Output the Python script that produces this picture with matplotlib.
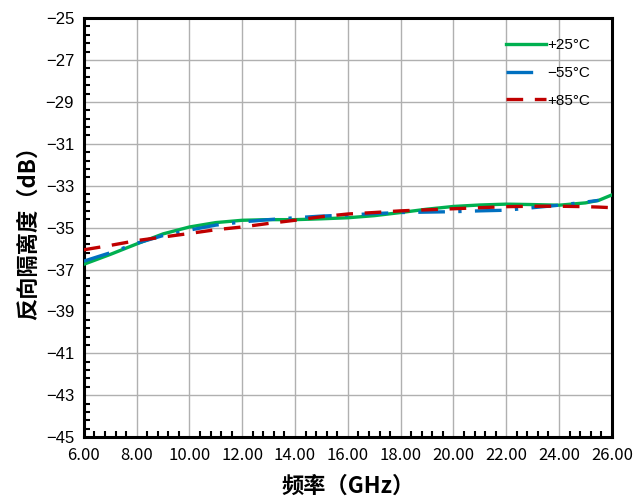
import numpy as np
import matplotlib.pyplot as plt
from matplotlib.ticker import MultipleLocator, FormatStrFormatter

plt.rcParams['font.family'] = ['Liberation Sans', 'Noto Sans CJK SC', 'DejaVu Sans']
plt.rcParams['axes.unicode_minus'] = True

# data
freq = [6, 7, 8, 9, 10, 11, 12, 13, 14, 15, 16, 17, 18, 19, 20, 21, 22, 23, 24, 25, 25.5, 26]
p25 = [-36.75, -36.28, -35.78, -35.30, -34.97, -34.76, -34.65, -34.62, -34.62, -34.58, -34.53,
       -34.43, -34.28, -34.12, -33.99, -33.92, -33.88, -33.90, -33.93, -33.82, -33.70, -33.44]
m55 = [-36.60, -36.20, -35.75, -35.38, -35.12, -34.88, -34.73, -34.62, -34.53, -34.45, -34.40,
       -34.33, -34.28, -34.26, -34.24, -34.20, -34.17, -34.05, -33.93, -33.78, -33.70]
p85 = [-36.06, -35.85, -35.62, -35.45, -35.28, -35.10, -34.97, -34.80, -34.65, -34.48, -34.35,
       -34.28, -34.20, -34.15, -34.10, -34.05, -34.00, -33.98, -33.98, -34.00, -34.02, -34.05]

fig = plt.figure(figsize=(6.4, 5.03), dpi=100)
ax = fig.add_axes([0.131, 0.131, 0.825, 0.833])

ax.plot(freq, p25, color='#00B050', lw=2.4, label='+25°C', zorder=3)
ax.plot(freq[:len(m55)], m55, color='#0070C0', lw=2.4, dashes=(8, 4, 1, 4), label='−55°C', zorder=4)
ax.plot(freq, p85, color='#C00000', lw=2.4, dashes=(5, 3.5), label='+85°C', zorder=5)

ax.set_xlim(6, 26)
ax.set_ylim(-45, -25)
ax.xaxis.set_major_locator(MultipleLocator(2))
ax.set_xticks(np.arange(6, 26, 0.4), minor=True)
ax.set_yticks(np.arange(-45, -24, 2))
ax.set_yticks(np.arange(-45, -25, 0.4), minor=True)
ax.xaxis.set_major_formatter(FormatStrFormatter('%.2f'))
ax.grid(True, which='major', color='#b0b0b0', lw=1.0)
ax.tick_params(which='major', length=0, pad=7)
ax.tick_params(which='minor', direction='in', length=4, width=1.5, color='black')
for lab in ax.get_xticklabels():
    lab.set_fontfamily(['Noto Sans CJK SC', 'DejaVu Sans'])
    lab.set_fontsize(12)
for lab in ax.get_yticklabels():
    lab.set_fontsize(12)
for s in ax.spines.values():
    s.set_linewidth(2.2)
    s.set_color('black')

ax.set_xlabel('频率（GHz）', fontsize=16, fontweight='bold',
              family=['Noto Sans CJK SC', 'DejaVu Sans'], labelpad=8)
ax.set_ylabel('反向隔离度（dB）', fontsize=16, fontweight='bold',
              family=['Noto Sans CJK SC', 'DejaVu Sans'], labelpad=4)

ax.legend(loc='upper right', frameon=False, fontsize=11, handlelength=2.6,
          handletextpad=0.1, labelspacing=0.9, bbox_to_anchor=(0.985, 0.985))

fig.savefig('out.png', dpi=100)
